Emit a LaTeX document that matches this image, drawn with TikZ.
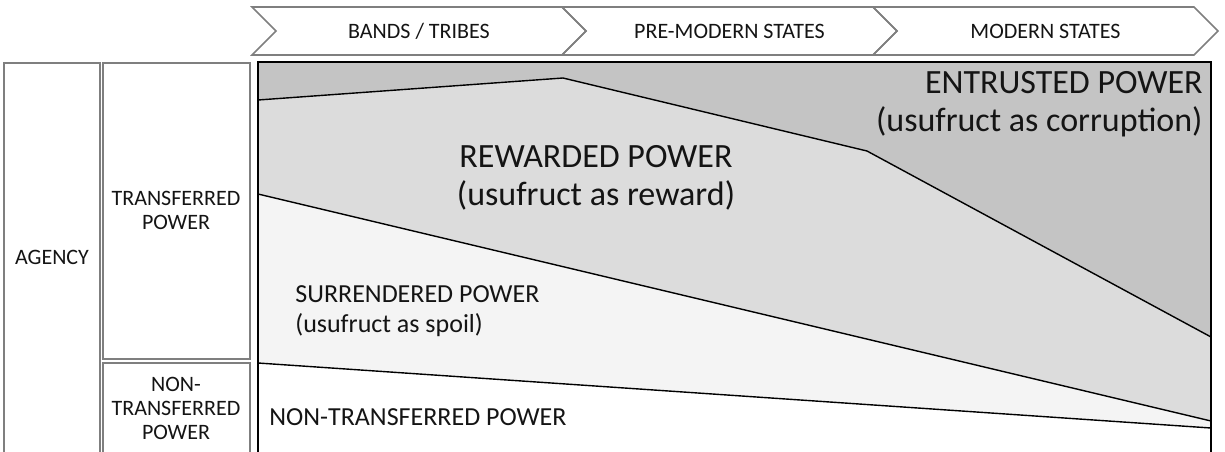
\documentclass[tikz,border=0pt]{standalone}
\usepackage{fontspec}
\setmainfont{Carlito}
\usetikzlibrary{positioning}

\definecolor{entrustgray}{HTML}{C4C4C4}
\definecolor{rewardgray}{HTML}{DCDCDC}
\definecolor{surrendgray}{HTML}{F4F4F4}
\definecolor{framegray}{HTML}{7F7F7F}
\definecolor{textgray}{HTML}{141414}

\begin{document}
\begin{tikzpicture}[x=0.5pt, y=-0.5pt, line join=miter,
	small/.style={inner sep=0pt, align=center, text=textgray, font=\fontsize{11}{12}\selectfont},
	medium/.style={inner sep=0pt, align=left, text=textgray, font=\fontsize{13}{15}\selectfont},
	large/.style={inner sep=0pt, text=textgray, font=\fontsize{17}{19}\selectfont},
	box/.style={draw=framegray, line width=0.8pt},
	band/.style={draw=black, line width=0.7pt}]
	\useasboundingbox (0,0) rectangle (1225,451);
	\clip (0,0) rectangle (1225,451);

	% Chevrons {bands, premod, modern}
	\foreach \l/\r/\name/\txt in {252/562/bands/{BANDS / TRIBES}, 562/873/premod/{PRE-MODERN STATES}, 873/1194/modern/{MODERN STATES}} {
		\draw [box] (\l,7) -- (\r,7) -- (\r+24,31) -- (\r,55) -- (\l,55) -- (\l+24,31) -- cycle;
		\node [small] (\name) at ({(\l+\r+24)/2},31) {\txt};
	}

	% Side boxes
	\draw [box] (4,63) rectangle (100,480);
	\draw [box] (103,63) rectangle (250,359);
	\draw [box] (103,363) rectangle (250,480);
	\node [small] (agency)    at (52,257)  {AGENCY};
	\node [small] (transf)    at (176,210) {TRANSFERRED\\POWER};
	\node [small] (nontransf) at (176,408) {NON-\\TRANSFERRED\\POWER};

	% Corners and boundary points of the panel
	\coordinate (tl) at (258,62);
	\coordinate (tr) at (1211,62);
	\coordinate (bl) at (258,480);
	\coordinate (br) at (1211,480);
	\coordinate (e1) at (258,100);
	\coordinate (e2) at (563,78);
	\coordinate (e3) at (867,151);
	\coordinate (e4) at (1211,337);
	\coordinate (s1) at (258,194);
	\coordinate (s2) at (1211,421);
	\coordinate (n1) at (258,363);
	\coordinate (n2) at (1211,428);

	% Regions
	\fill [entrustgray] (tl) -- (tr) -- (e4) -- (e3) -- (e2) -- (e1) -- cycle;
	\fill [rewardgray]  (e1) -- (e2) -- (e3) -- (e4) -- (s2) -- (s1) -- cycle;
	\fill [surrendgray] (s1) -- (s2) -- (n2) -- (n1) -- cycle;

	% Boundaries
	\draw [band] (e1) -- (e2) -- (e3) -- (e4);
	\draw [band] (s1) -- (s2);
	\draw [band] (n1) -- (n2);
	\draw [line width=1pt] (bl) -- (tl) -- (tr) -- (br);

	% Labels
	\node [large, align=right, anchor=east] (entrusted) at (1203,104) {ENTRUSTED POWER\\(usufruct as corruption)};
	\node [large, align=center]             (rewarded)  at (596,178)  {REWARDED POWER\\(usufruct as reward)};
	\node [medium, anchor=west]             (surrend)   at (295,311)  {SURRENDERED POWER\\(usufruct as spoil)};
	\node [medium, anchor=west]             (nontrans)  at (269,417)  {NON-TRANSFERRED POWER};

\end{tikzpicture}
\end{document}
